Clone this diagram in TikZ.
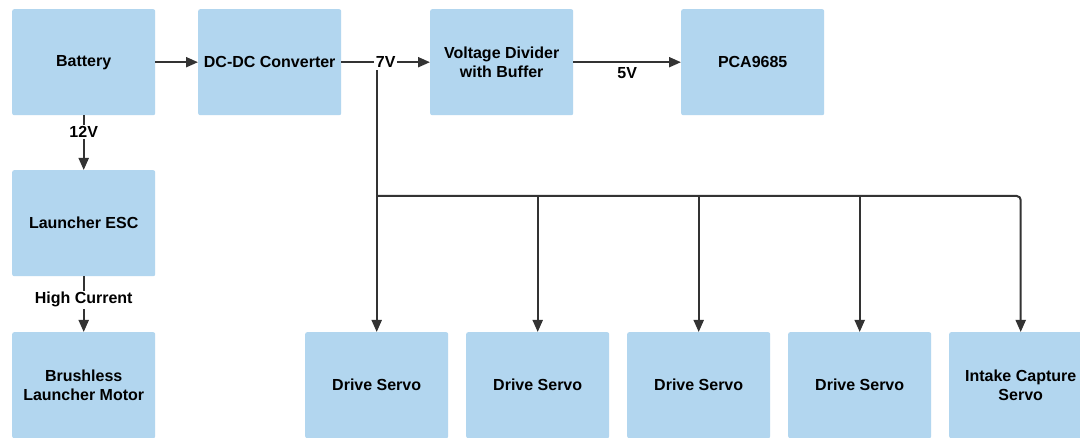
\documentclass[tikz,border=0pt]{standalone}
\usepackage{fontspec}
\setmainfont{Liberation Sans}
\usetikzlibrary{arrows.meta}
\definecolor{boxblue}{HTML}{B2D6EF}
\definecolor{wiregray}{HTML}{333333}
\begin{document}
\begin{tikzpicture}[x=1pt,y=-1pt,
  txt/.style={font=\fontsize{16}{19.5}\selectfont\bfseries, text=black},
  blk/.style={txt, fill=boxblue, draw=none, rounded corners=2pt,
    minimum width=143pt, minimum height=106pt, inner sep=0pt,
    align=center, anchor=north west},
  wire/.style={line width=2pt, draw=wiregray},
  arr/.style={wire, -{Triangle[length=12pt,width=10pt]}},
  lbl/.style={txt, fill=white, inner sep=1.5pt}]
\clip (0,0) rectangle (1080,438);
\fill[white] (0,0) rectangle (1080,438);

% power chain
\node[blk] (bat)  at (12,9)  {Battery};
\node[blk] (dcdc) at (198,9) {DC-DC Converter};
\node[blk] (vd)   at (430,9) {Voltage Divider\\with Buffer};
\node[blk] (pca)  at (681,9) {PCA9685};

% launcher branch
\node[blk] (esc)  at (12,170) {Launcher ESC};
\node[blk] (mot)  at (12,332) {Brushless\\Launcher Motor};

% servo row
\node[blk] (s1) at (305,332) {Drive Servo};
\node[blk] (s2) at (466,332) {Drive Servo};
\node[blk] (s3) at (627,332) {Drive Servo};
\node[blk] (s4) at (788,332) {Drive Servo};
\node[blk] (s5) at (949,332) {Intake Capture\\Servo};

% connectors
\draw[arr] (bat) -- (dcdc);
\draw[arr] (dcdc) -- node[lbl] (v7) {7V} (vd);
\draw[arr] (vd) -- node[txt, below, yshift=-1pt] {5V} (pca);
\draw[arr] (bat) -- node[lbl, pos=0.3] {12V} (esc);
\draw[arr] (esc) -- node[lbl, pos=0.42] {High Current} (mot);

% 7V bus feeding the servos
\coordinate (bus) at (376,196);
\draw[wire] (s1.north |- v7.south) -- (s1.north |- bus);
\draw[arr] (s1.north |- bus) -- (s1.north);
\draw[arr, rounded corners=4pt] (s1.north |- bus) -| (s5.north);
\draw[arr] (s2.north |- bus) -- (s2.north);
\draw[arr] (s3.north |- bus) -- (s3.north);
\draw[arr] (s4.north |- bus) -- (s4.north);
\end{tikzpicture}
\end{document}
